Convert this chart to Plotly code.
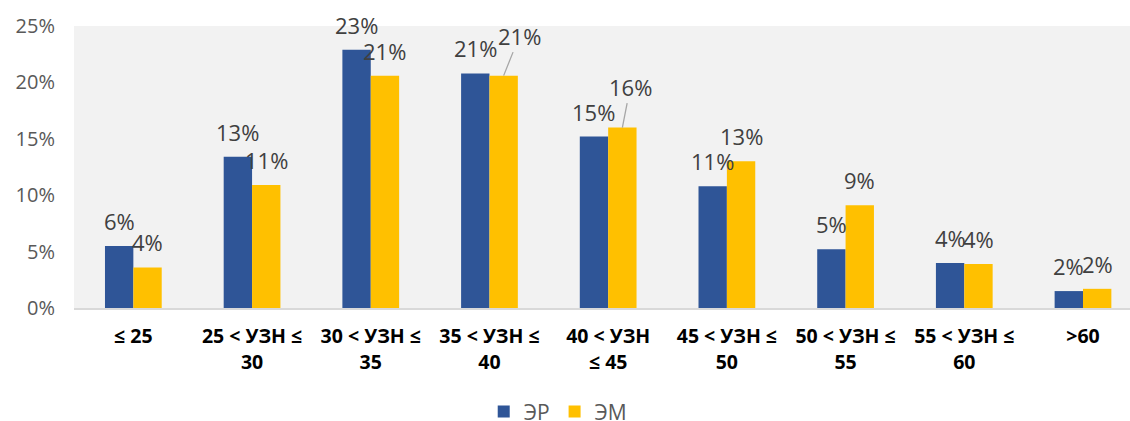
import plotly.graph_objects as go

categories = ["≤ 25", "25 < УЗН ≤<br>30", "30 < УЗН ≤<br>35", "35 < УЗН ≤<br>40",
              "40 < УЗН<br>≤ 45", "45 < УЗН ≤<br>50", "50 < УЗН ≤<br>55",
              "55 < УЗН ≤<br>60", ">60"]
er_values = [5.5, 13.4, 22.9, 20.8, 15.2, 10.8, 5.2, 4.0, 1.5]
em_values = [3.6, 10.9, 20.6, 20.6, 16.0, 13.0, 9.1, 3.9, 1.7]
series_names = ["ЭР", "ЭМ"]
y_ticks = [0, 5, 10, 15, 20, 25]

colors = ["#2F5597", "#FFC000"]
label_font = dict(family="Open Sans", size=22, color="#404040")

fig = go.Figure()
for name, vals, col in zip(series_names, [er_values, em_values], colors):
    fig.add_trace(go.Bar(
        name=name, x=list(range(len(categories))), y=vals,
        marker=dict(color=col, line=dict(width=0)),
        hoverinfo="skip",
    ))

# bar center offsets within a group (fraction of category)
off = 0.1195
# label offsets (pixels): default above bar; a few are moved with leader lines
leader = {(1, 3): (16, -40), (1, 4): (8, -41)}
for s, vals in enumerate([er_values, em_values]):
    dx = -off if s == 0 else off
    for i, v in enumerate(vals):
        txt = f"{int(v + 0.5)}%"
        if (s, i) in leader:
            ax, ay = leader[(s, i)]
            fig.add_annotation(x=i + dx, y=v, xref="x", yref="y", text=txt,
                               showarrow=True, ax=ax, ay=ay, arrowhead=0,
                               arrowwidth=1.3, arrowcolor="#A6A6A6",
                               standoff=0, startstandoff=0,
                               font=label_font)
        else:
            fig.add_annotation(x=i + dx, y=v, xref="x", yref="y", text=txt,
                               showarrow=False, yshift=25, font=label_font)

fig.update_layout(
    width=1130, height=421,
    margin=dict(l=74, r=0, t=26, b=113, autoexpand=False),
    paper_bgcolor="white",
    plot_bgcolor="#F2F2F2",
    barmode="group",
    bargap=0.522,
    bargroupgap=0,
    showlegend=True,
    legend=dict(orientation="h", xref="container", yref="container",
                x=0.494, xanchor="center", y=0.022, yanchor="middle",
                font=dict(family="Open Sans", size=21, color="#595959"),
                itemwidth=30, traceorder="normal"),
    xaxis=dict(
        tickmode="array", tickvals=list(range(len(categories))), ticktext=categories,
        range=[-0.5, 8.396], automargin=False,
        showgrid=False, zeroline=False,
        showline=True, linecolor="#D9D9D9", linewidth=2,
        ticks="", ticklabelstandoff=10,
        tickfont=dict(family="Open Sans", size=19.5, color="#000000", weight="bold"),
        fixedrange=True,
    ),
    yaxis=dict(
        range=[0, 25], tickmode="array", tickvals=y_ticks, automargin=False,
        ticktext=[f"{t}%" for t in y_ticks],
        showgrid=False, zeroline=False, showline=False,
        ticks="", ticklabelstandoff=18,
        tickfont=dict(family="Open Sans", size=20, color="#595959"),
        fixedrange=True,
    ),
)

fig.write_html("out.html", config={"displayModeBar": False},
               post_script="document.body.style.margin='0';document.body.style.overflow='hidden';")
